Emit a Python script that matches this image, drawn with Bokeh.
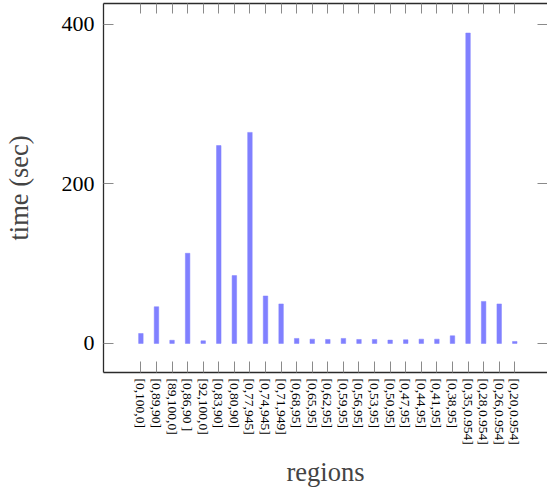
from bokeh.plotting import figure
from bokeh.models import LinearAxis, FixedTicker, Range1d, ColumnDataSource
from bokeh.embed import file_html
from bokeh.resources import INLINE

categories = ["[0,100,0]", "[0,89,90]", "[89,100,0]", "[0,86,90 ]", "[92,100,0]",
              "[0,83,90]", "[0,80,90]", "[0,77,945]", "[0,74,945]", "[0,71,949]",
              "[0,68,95]", "[0,65,95]", "[0,62,95]", "[0,59,95]", "[0,56,95]",
              "[0,53,95]", "[0,50,95]", "[0,47,95]", "[0,44,95]", "[0,41,95]",
              "[0,38,95]", "[0,35,0.954]", "[0,28,0.954]", "[0,26,0.954]", "[0,20,0.954]"]
times = [12.5, 46, 4, 113, 3.3, 248, 85, 264.5, 59.5, 49.5,
         6.3, 5.4, 5, 6.3, 5, 5, 4.2, 4.6, 5.4, 5.4,
         9.6, 389, 52.7, 49.5, 2.5]
y_ticks = [0, 200, 400]

xs = list(range(len(categories)))
src = ColumnDataSource(dict(x=xs, top=times))

FONT = "Liberation Serif"
AX = "#2b2b2b"
TK = "#8a8a8a"

p = figure(width=547, height=489, output_backend="svg", toolbar_location=None,
           x_range=Range1d(-2.4, 26.1), y_range=Range1d(-36.4, 426),
           min_border_left=103, min_border_right=0, min_border_top=3, min_border_bottom=0,
           outline_line_color=None, background_fill_color="white")
p.xgrid.visible = False
p.ygrid.visible = False

p.vbar(x="x", top="top", bottom=0, width=0.29, source=src,
       fill_color="#8080ff", line_color="#8080ff", line_width=0.5)

xa = p.xaxis[0]
xa.ticker = FixedTicker(ticks=xs)
xa.major_label_overrides = {i: c for i, c in enumerate(categories)}
xa.major_label_orientation = "vertical"
xa.major_label_text_font = FONT
xa.major_label_text_font_size = "13.5px"
xa.major_label_text_color = "black"
xa.major_label_standoff = 6
xa.major_tick_in = 11
xa.major_tick_out = 0
xa.minor_tick_line_color = None
xa.major_tick_line_color = TK
xa.axis_line_color = AX
xa.axis_line_width = 1.3
xa.axis_label = "regions"
xa.axis_label_text_font = FONT
xa.axis_label_text_font_size = "26.5px"
xa.axis_label_text_font_style = "normal"
xa.axis_label_standoff = 9

ya = p.yaxis[0]
ya.ticker = FixedTicker(ticks=y_ticks)
ya.major_label_text_font = FONT
ya.major_label_text_font_size = "22px"
ya.major_label_text_color = "black"
ya.major_label_standoff = 9
ya.major_tick_in = 10
ya.major_tick_out = 0
ya.minor_tick_line_color = None
ya.major_tick_line_color = TK
ya.axis_line_color = AX
ya.axis_line_width = 1.3
ya.axis_label = "time (sec)"
ya.axis_label_text_font = FONT
ya.axis_label_text_font_size = "26.5px"
ya.axis_label_text_font_style = "normal"
ya.axis_label_standoff = 25

top_ax = LinearAxis(ticker=FixedTicker(ticks=xs), major_tick_in=10, major_tick_out=0,
                    major_label_text_font_size="0px", major_label_standoff=0,
                    minor_tick_line_color=None, major_tick_line_color=TK,
                    axis_line_color=AX, axis_line_width=1.3)
top_ax.major_label_overrides = {i: "" for i in xs}
p.add_layout(top_ax, "above")

right_ax = LinearAxis(ticker=FixedTicker(ticks=y_ticks), major_tick_in=10, major_tick_out=0,
                      major_label_text_font_size="0px", major_label_standoff=0,
                      minor_tick_line_color=None, major_tick_line_color=TK,
                      axis_line_color=None)
right_ax.major_label_overrides = {t: "" for t in y_ticks}
p.add_layout(right_ax, "right")

open("out.html", "w").write(file_html(p, INLINE))
